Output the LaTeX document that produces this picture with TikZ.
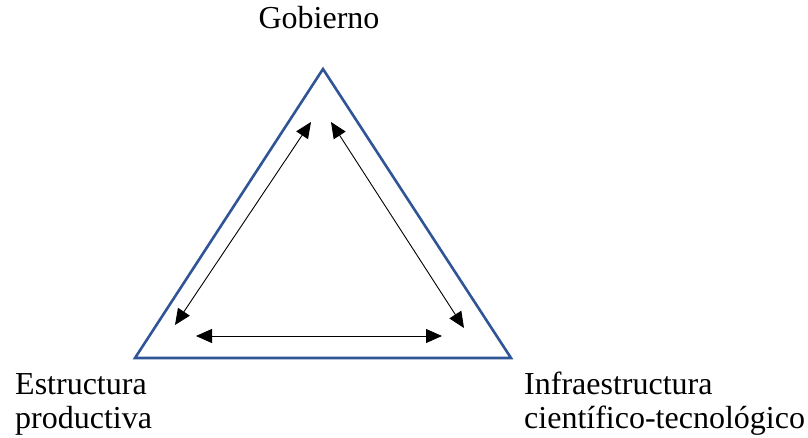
\documentclass[tikz,border=0pt]{standalone}
\usepackage{fontspec}
\setmainfont{Liberation Serif}
\usetikzlibrary{arrows.meta}
\usetikzlibrary{positioning}

\definecolor{triblue}{RGB}{47,85,151}

\begin{document}
\begin{tikzpicture}[x=1pt, y=1pt,
    label text/.style={inner sep=0pt, align=left, font=\fontsize{32}{34}\selectfont},
    link/.style={{Triangle[length=16pt, width=14pt]}-{Triangle[length=16pt, width=14pt]}, line width=0.9pt}]
    \useasboundingbox (0, 0) rectangle (808, 437);

    % vertices of the triangle
    \coordinate (top) at (323, 368);
    \coordinate (left) at (135, 79);
    \coordinate (right) at (511, 79);
    \draw [triblue, line width=2.6pt, line join=miter] (top) -- (left) -- (right) -- cycle;

    % ends of the arrows
    \coordinate (tl) at (311, 315);
    \coordinate (bl) at (175, 112);
    \coordinate (tr) at (331, 315);
    \coordinate (br) at (464, 109);
    \coordinate (lb) at (196, 101);
    \coordinate (rb) at (442, 101);

    \draw [link] (tl) -- (bl);
    \draw [link] (tr) -- (br);
    \draw [link] (lb) -- (rb);

    \node [label text, anchor=base] (gobierno) at (319, 408) {Gobierno};
    \node [label text, anchor=base west] (estructura) at (15, 9) {Estructura\\productiva};
    \node [label text, anchor=base west] (infra) at (524, 9) {Infraestructura\\científico-tecnológico};
\end{tikzpicture}
\end{document}
